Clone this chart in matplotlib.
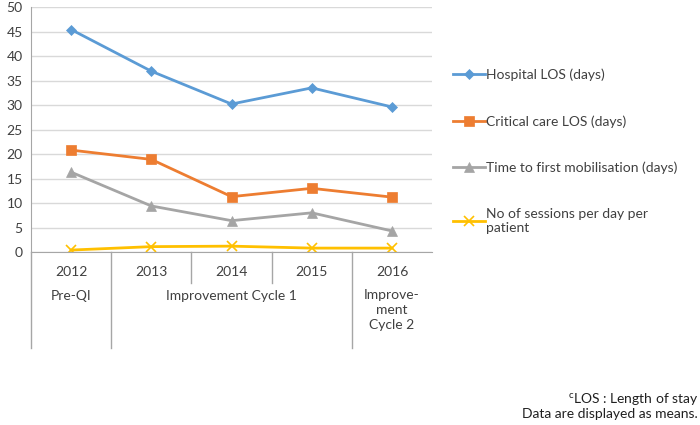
import matplotlib.pyplot as plt

plt.rcParams['font.family'] = ['Lato', 'DejaVu Sans']

years = ["2012", "2013", "2014", "2015", "2016"]
hospital_los = [45.4, 36.9, 30.2, 33.5, 29.6]
critical_los = [20.8, 18.9, 11.3, 13.0, 11.2]
mobilisation = [16.3, 9.4, 6.4, 8.0, 4.3]
sessions = [0.4, 1.1, 1.2, 0.8, 0.8]
phases = [("Pre-QI", 0, 0), ("Improvement Cycle 1", 1, 3), ("Improve-\nment\nCycle 2", 4, 4)]

series = [
    ("Hospital LOS (days)", hospital_los, "#5B9BD5", "D", 5),
    ("Critical care LOS (days)", critical_los, "#ED7D31", "s", 6.5),
    ("Time to first mobilisation (days)", mobilisation, "#A5A5A5", "^", 6.5),
    ("No of sessions per day per\npatient", sessions, "#FFC000", "x", 6.5),
]

fig = plt.figure(figsize=(7, 4.25), dpi=100)
ax = fig.add_axes([0.0443, 0.407, 0.573, 0.5765])

x = list(range(len(years)))
for label, vals, color, marker, ms in series:
    ax.plot(x, vals, color=color, marker=marker, markersize=ms, linewidth=2,
            markeredgewidth=1.2 if marker == "x" else 0.5, label=label)

ax.set_xlim(-0.5, len(years) - 0.5)
ax.set_ylim(0, 50)
ax.set_yticks(range(0, 51, 5))
ax.yaxis.grid(True, color="#D9D9D9", linewidth=1)
ax.set_axisbelow(True)
ax.set_xticks([])
for s in ["top", "right"]:
    ax.spines[s].set_visible(False)
ax.spines["left"].set_color("#A6A6A6")
ax.spines["bottom"].set_color("#A6A6A6")
ax.tick_params(axis="y", length=0, labelsize=10, pad=6, colors="#404040")

# category lines below the axis
tr = ax.get_xaxis_transform()
bounds = [i - 0.5 for i in range(len(years) + 1)]
full = {-0.5, 0.5, 3.5}
for b in bounds[:-1]:
    bottom = -0.392 if b in full else -0.127
    ax.plot([b, b], [0, bottom], transform=tr, color="#A6A6A6", linewidth=1, clip_on=False)

for i, yr in enumerate(years):
    ax.text(i, -0.082, yr, transform=tr, ha="center", va="center", fontsize=10, color="#404040")

for name, a, b in phases:
    if "\n" in name:
        ax.text((a + b) / 2, -0.15, name, transform=tr, ha="center", va="top",
                fontsize=10, color="#404040", linespacing=1.3)
    else:
        ax.text((a + b) / 2, -0.18, name, transform=tr, ha="center", va="center",
                fontsize=10, color="#404040")

ax.legend(loc="upper left", bbox_to_anchor=(1.02, 0.8), frameon=False, fontsize=10,
          labelspacing=2.45, handlelength=2.3, handletextpad=0.1, labelcolor="#404040")

fig.text(0.997, 0.06, r"$^{\mathregular{c}}$LOS : Length of stay", ha="right", va="center",
         fontsize=10, color="#202020")
fig.text(0.997, 0.026, "Data are displayed as means.", ha="right", va="center",
         fontsize=10, color="#202020")

fig.savefig("out.png", dpi=100)
